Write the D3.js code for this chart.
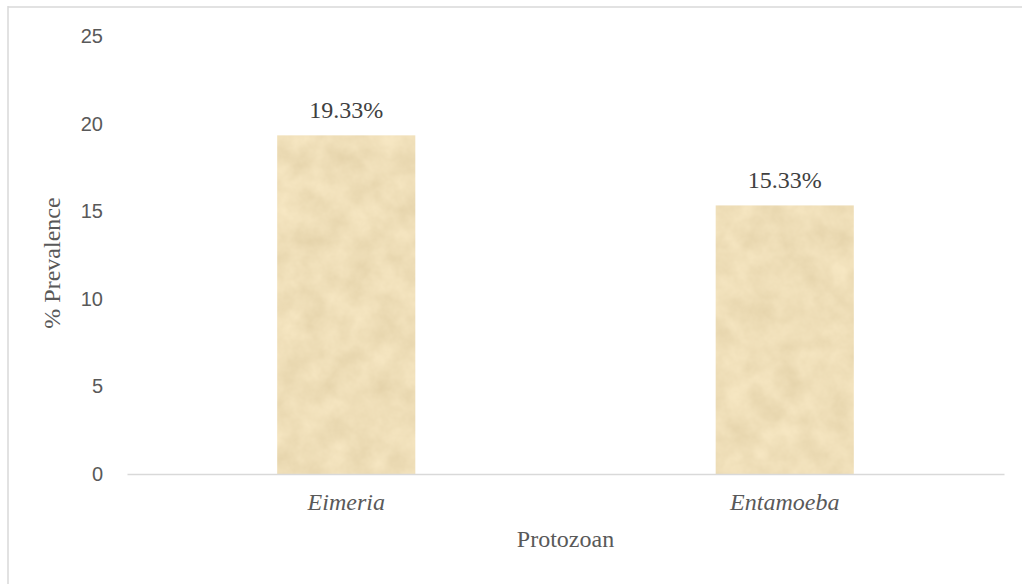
<!DOCTYPE html>
<html>
<head>
<meta charset="utf-8">
<script src="https://cdn.jsdelivr.net/npm/d3@7"></script>
<style>
  html, body { margin: 0; padding: 0; background: #fff; }
  svg { display: block; }
</style>
</head>
<body>
<svg id="chart" width="1022" height="584"></svg>
<script>
// Prevalence of protozoan genera
const categories = ["Eimeria", "Entamoeba"];
const prevalence = [19.33, 15.33];
const valueLabels = ["19.33%", "15.33%"];
const yTicks = [0, 5, 10, 15, 20, 25];

const svg = d3.select("#chart");
const margin = { left: 127, right: 18, top: 36, bottom: 110 };
const W = 1022, H = 584;

// Parchment-like texture for the bars
const defs = svg.append("defs");
const f = defs.append("filter").attr("id", "paper")
  .attr("x", 0).attr("y", 0).attr("width", 1).attr("height", 1)
  .attr("color-interpolation-filters", "sRGB");
f.append("feTurbulence").attr("type", "fractalNoise")
  .attr("baseFrequency", "0.04").attr("numOctaves", 4).attr("seed", 7).attr("result", "noise");
f.append("feColorMatrix").attr("in", "noise").attr("type", "matrix")
  .attr("values", [
    0.09, 0, 0, 0, 0.89,
    0.10, 0, 0, 0, 0.82,
    0.12, 0, 0, 0, 0.66,
    0, 0, 0, 0, 1
  ].join(" ")).attr("result", "tint");
f.append("feComposite").attr("in", "tint").attr("in2", "SourceGraphic").attr("operator", "in");

// Chart frame (left and top edges)
svg.append("line").attr("x1", 8).attr("x2", 8).attr("y1", 6).attr("y2", H)
  .attr("stroke", "#d9d9d9").attr("stroke-width", 1.5);
svg.append("line").attr("x1", 8).attr("x2", W).attr("y1", 7).attr("y2", 7)
  .attr("stroke", "#d9d9d9").attr("stroke-width", 1.5);

const x = d3.scaleBand()
  .domain(categories)
  .range([margin.left, 1004])
  .paddingInner(0.685)
  .paddingOuter(0.3425);

const y = d3.scaleLinear()
  .domain([0, 25])
  .range([474, margin.top]);

// Y axis tick labels
const yAxis = d3.axisLeft(y).tickValues(yTicks).tickSize(0).tickPadding(0);
const gy = svg.append("g").attr("transform", "translate(103,0)").call(yAxis);
gy.select(".domain").remove();
gy.selectAll("text")
  .attr("font-family", "'Liberation Sans', Arial, sans-serif")
  .attr("font-size", 20)
  .attr("fill", "#595959");

// Bars
svg.append("g").selectAll("rect")
  .data(categories)
  .join("rect")
  .attr("x", d => x(d))
  .attr("width", x.bandwidth())
  .attr("y", (d, i) => y(prevalence[i]))
  .attr("height", (d, i) => y(0) - y(prevalence[i]))
  .attr("fill", "#eedeb8")
  .attr("filter", "url(#paper)");

// X axis baseline and category labels
const xAxis = d3.axisBottom(x).tickSize(0).tickPadding(0);
const gx = svg.append("g").attr("transform", `translate(0,${y(0)})`).call(xAxis);
gx.select(".domain").attr("stroke", "#d9d9d9").attr("stroke-width", 1.5);
gx.selectAll("text")
  .attr("dy", null)
  .attr("y", 36)
  .attr("font-family", "'Liberation Serif', 'Times New Roman', serif")
  .attr("font-style", "italic")
  .attr("font-size", 24)
  .attr("fill", "#595959");

// Value labels above bars
svg.append("g").selectAll("text")
  .data(categories)
  .join("text")
  .attr("x", d => x(d) + x.bandwidth() / 2)
  .attr("y", (d, i) => y(prevalence[i]) - 17)
  .attr("text-anchor", "middle")
  .attr("font-family", "'Liberation Serif', 'Times New Roman', serif")
  .attr("font-size", 24)
  .attr("fill", "#404040")
  .text((d, i) => valueLabels[i]);

// Axis titles
svg.append("text")
  .attr("x", (margin.left + 1004) / 2)
  .attr("y", 547)
  .attr("text-anchor", "middle")
  .attr("font-family", "'Liberation Serif', 'Times New Roman', serif")
  .attr("font-size", 24)
  .attr("fill", "#595959")
  .text("Protozoan");

svg.append("text")
  .attr("transform", `translate(60,${(y(0) + y(25)) / 2 + 8}) rotate(-90)`)
  .attr("text-anchor", "middle")
  .attr("font-family", "'Liberation Serif', 'Times New Roman', serif")
  .attr("font-size", 24)
  .attr("fill", "#595959")
  .text("% Prevalence");
</script>
</body>
</html>
